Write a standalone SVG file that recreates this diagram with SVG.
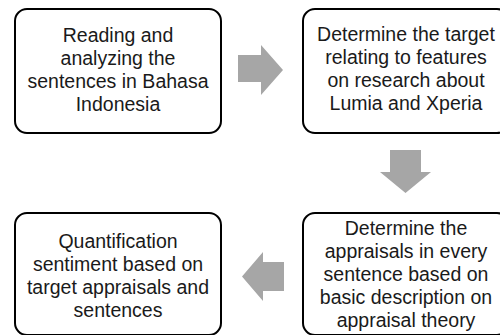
<svg xmlns="http://www.w3.org/2000/svg" width="500" height="335" viewBox="0 0 500 335">
<style>
.box{fill:#ffffff;stroke:#000000;stroke-width:2;}
.t{font-family:"Liberation Sans",Arial,sans-serif;font-size:19.5px;fill:#1a1a1a;text-anchor:middle;}
.arr{fill:#a6a6a6;stroke:none;}
</style>
<rect width="500" height="335" fill="#ffffff"/>
<g id="connectors">
<polygon class="arr" points="238,55 261,55 261,45 283,70 261,95 261,82 238,82"/>
<polygon class="arr" points="390,150 421,150 421,172 431,172 405.5,193 380,172 390,172"/>
<polygon class="arr" points="284,262 263,262 263,252 242,276.5 263,301 263,291 284,291"/>
</g>
<g id="n1">
<rect class="box" x="15" y="9" width="206" height="124" rx="12"/>
<text class="t" x="118" y="42">Reading and</text>
<text class="t" x="118" y="65">analyzing the</text>
<text class="t" x="118" y="88">sentences in Bahasa</text>
<text class="t" x="118" y="111">Indonesia</text>
</g>
<g id="n2">
<rect class="box" x="303" y="9" width="206" height="124" rx="12"/>
<text class="t" x="406" y="41">Determine the target</text>
<text class="t" x="406" y="64">relating to features</text>
<text class="t" x="406" y="87">on research about</text>
<text class="t" x="406" y="110">Lumia and Xperia</text>
</g>
<g id="n3">
<rect class="box" x="15" y="213" width="206" height="122" rx="12"/>
<text class="t" x="118" y="248">Quantification</text>
<text class="t" x="118" y="271">sentiment based on</text>
<text class="t" x="118" y="294">target appraisals and</text>
<text class="t" x="118" y="317">sentences</text>
</g>
<g id="n4">
<rect class="box" x="303" y="213" width="206" height="122" rx="12"/>
<text class="t" x="406" y="235">Determine the</text>
<text class="t" x="406" y="258">appraisals in every</text>
<text class="t" x="406" y="281">sentence based on</text>
<text class="t" x="406" y="304">basic description on</text>
<text class="t" x="406" y="327">appraisal theory</text>
</g>
</svg>
